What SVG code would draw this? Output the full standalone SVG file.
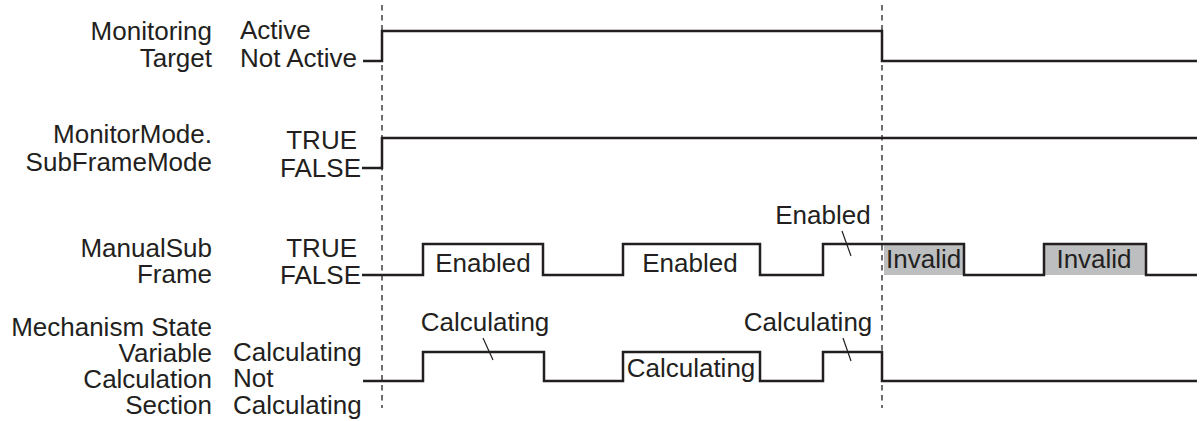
<svg xmlns="http://www.w3.org/2000/svg" width="1200" height="421" viewBox="0 0 1200 421">
<style>
text{font-family:"Liberation Sans",Arial,sans-serif;font-size:26px;fill:#231f20}
.e{text-anchor:end}
.m{text-anchor:middle}
.w{fill:none;stroke:#231f20;stroke-width:2.5;stroke-linejoin:miter}
.d{fill:none;stroke:#231f20;stroke-width:1.3;stroke-dasharray:5.5 4.5}
.l{fill:none;stroke:#231f20;stroke-width:1.2}
.g{fill:#bcbec0}
</style>
<rect width="1200" height="421" fill="#fff"/>
<g id="row-monitoring-target">
<text class="e" x="212" y="40">Monitoring</text>
<text class="e" x="212" y="67">Target</text>
<text x="240" y="39">Active</text>
<text x="240" y="67">Not Active</text>
<path class="w" d="M363 61H382V31H882V61H1197"/>
</g>
<g id="row-subframemode">
<text class="e" x="212" y="143">MonitorMode.</text>
<text class="e" x="212" y="171">SubFrameMode</text>
<text class="e" x="357" y="149">TRUE</text>
<text class="e" x="361" y="177">FALSE</text>
<path class="w" d="M362 168H382V138H1197"/>
</g>
<g id="row-manualsubframe">
<text class="e" x="212" y="257">ManualSub</text>
<text class="e" x="212" y="283">Frame</text>
<text class="e" x="357" y="257">TRUE</text>
<text class="e" x="361" y="284">FALSE</text>
<rect class="g" x="884" y="245" width="80" height="30"/>
<rect class="g" x="1044" y="245" width="102" height="30"/>
<path class="w" d="M362 275H423V244H543V275H623V244H760V275H823V244H964V275H1044V244H1146V275H1197"/>
<text class="m" x="483" y="272">Enabled</text>
<text class="m" x="690" y="272">Enabled</text>
<text class="m" x="823" y="224">Enabled</text>
<text x="886" y="268">Invalid</text>
<text class="m" x="1094" y="268">Invalid</text>
</g>
<g id="row-calculation-section">
<text class="e" x="212" y="336">Mechanism State</text>
<text class="e" x="212" y="362">Variable</text>
<text class="e" x="212" y="388">Calculation</text>
<text class="e" x="212" y="414">Section</text>
<text x="233" y="361">Calculating</text>
<text x="233" y="387">Not</text>
<text x="233" y="414">Calculating</text>
<path class="w" d="M363 381H423V352H544V381H623V352H760V381H823V352H882V381H1197"/>
<text class="m" x="485" y="331">Calculating</text>
<text class="m" x="691" y="377">Calculating</text>
<text class="m" x="808" y="331">Calculating</text>
</g>
<g id="connectors">
<line class="d" x1="382" y1="5" x2="382" y2="408"/>
<line class="d" x1="882" y1="5" x2="882" y2="408"/>
<line class="l" x1="842" y1="231" x2="851" y2="256"/>
<line class="l" x1="483" y1="338" x2="493" y2="360"/>
<line class="l" x1="843" y1="338" x2="851" y2="361"/>
</g>
</svg>
